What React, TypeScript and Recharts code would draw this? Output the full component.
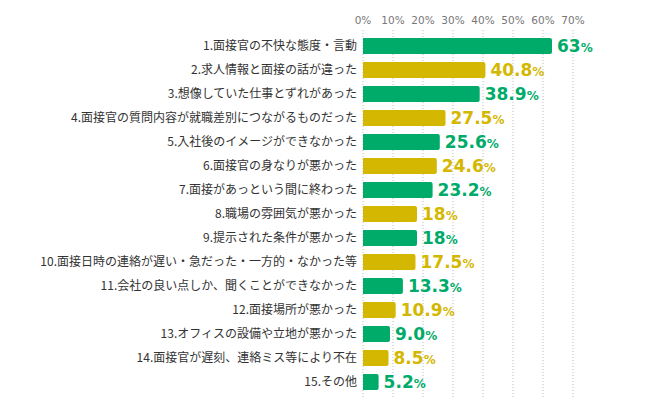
import { BarChart, Bar, XAxis, YAxis, CartesianGrid, Cell, LabelList } from 'recharts';

const categories = [
  '1.面接官の不快な態度・言動',
  '2.求人情報と面接の話が違った',
  '3.想像していた仕事とずれがあった',
  '4.面接官の質問内容が就職差別につながるものだった',
  '5.入社後のイメージができなかった',
  '6.面接官の身なりが悪かった',
  '7.面接があっという間に終わった',
  '8.職場の雰囲気が悪かった',
  '9.提示された条件が悪かった',
  '10.面接日時の連絡が遅い・急だった・一方的・なかった等',
  '11.会社の良い点しか、聞くことができなかった',
  '12.面接場所が悪かった',
  '13.オフィスの設備や立地が悪かった',
  '14.面接官が遅刻、連絡ミス等により不在',
  '15.その他',
];
const values = [63, 40.8, 38.9, 27.5, 25.6, 24.6, 23.2, 18, 18, 17.5, 13.3, 10.9, 9.0, 8.5, 5.2];
const valueLabels = ['63', '40.8', '38.9', '27.5', '25.6', '24.6', '23.2', '18', '18', '17.5', '13.3', '10.9', '9.0', '8.5', '5.2'];
const xTicks = [0, 10, 20, 30, 40, 50, 60, 70];

const GREEN = '#00ab69';
const YELLOW = '#d4b700';

const data = categories.map((name, i) => ({
  name,
  value: values[i],
  label: valueLabels[i],
  color: i % 2 === 0 ? GREEN : YELLOW,
}));

const ValueLabel = (props: any) => {
  const { x, y, width, height, index } = props;
  const d = data[index];
  return (
    <text
      x={x + width + 5}
      y={y + height / 2}
      dy={6}
      fill={d.color}
      fontFamily="DejaVu Sans, Verdana, sans-serif"
      fontWeight="bold"
    >
      <tspan fontSize={17}>{d.label}</tspan>
      <tspan fontSize={12}>%</tspan>
    </text>
  );
};

export default function App() {
  return (
    <div style={{ position: 'absolute', left: 0, top: 0, width: 662, height: 397, background: '#fff' }}>
      <BarChart
        width={662}
        height={397}
        data={data}
        layout="vertical"
        margin={{ top: 0, right: 89, bottom: 0, left: 0 }}
      >
        <CartesianGrid horizontal={false} stroke="#bbb" strokeDasharray="1 2" />
        <XAxis
          type="number"
          orientation="top"
          domain={[0, 70]}
          ticks={xTicks}
          tickFormatter={(v) => `${v}%`}
          axisLine={false}
          tickLine={false}
          tickSize={0}
          tickMargin={6}
          height={30}
          interval={0}
          tick={{ fill: '#777', fontSize: 10.5, fontFamily: 'DejaVu Sans, Verdana, sans-serif' }}
        />
        <YAxis
          type="category"
          dataKey="name"
          width={363}
          axisLine={false}
          tickLine={false}
          tickSize={0}
          tickMargin={6}
          interval={0}
          padding={{ top: 4, bottom: 3 }}
          tick={{ fill: '#333', fontSize: 12, fontFamily: 'Noto Sans CJK JP, sans-serif' }}
        />
        <Bar dataKey="value" barSize={16} radius={[0, 2, 2, 0]} isAnimationActive={false}>
          {data.map((d, i) => (
            <Cell key={i} fill={d.color} />
          ))}
          <LabelList dataKey="value" content={ValueLabel} />
        </Bar>
      </BarChart>
    </div>
  );
}
